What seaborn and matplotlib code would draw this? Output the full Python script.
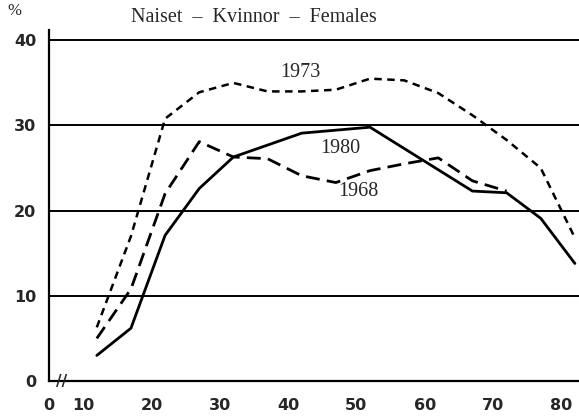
import numpy as np
import pandas as pd
import seaborn as sns
import matplotlib.pyplot as plt

# Data (age on x, percent on y)
age_1980 = [12, 17, 22, 27, 32, 42, 52, 67, 72, 77, 82]
pct_1980 = [3.0, 6.2, 17.1, 22.6, 26.3, 29.1, 29.8, 22.3, 22.1, 19.1, 13.8]

age_1973 = [12, 17, 22, 27, 32, 37, 42, 47, 52, 57, 62, 67, 72, 77, 82]
pct_1973 = [6.3, 17.0, 30.8, 33.9, 35.0, 34.0, 34.0, 34.2, 35.5, 35.3, 33.8, 31.2, 28.3, 25.0, 16.8]

age_1968 = [12, 17, 22, 27, 32, 37, 42, 47, 52, 57, 62, 67, 72]
pct_1968 = [5.0, 10.8, 22.0, 28.1, 26.3, 26.1, 24.1, 23.3, 24.7, 25.5, 26.2, 23.5, 22.3]

yticks = [0, 10, 20, 30, 40]
xticks = [10, 20, 30, 40, 50, 60, 70, 80]

sns.set_style("white")
plt.rcParams['font.family'] = ['DejaVu Sans']

fig = plt.figure(figsize=(5.79, 4.18), dpi=100)
ax = fig.add_axes([0.0846, 0.0885, 0.9154, 0.8395])

# grid lines at 10..40
for v in yticks[1:]:
    ax.axhline(v, color="black", lw=1.4, zorder=1)

sns.lineplot(x=age_1973, y=pct_1973, ax=ax, color="black", lw=1.8,
             linestyle=(0, (3.0, 2.2)), sort=False)
sns.lineplot(x=age_1968, y=pct_1968, ax=ax, color="black", lw=2.0,
             linestyle=(0, (5.0, 2.6)), sort=False)
sns.lineplot(x=age_1980, y=pct_1980, ax=ax, color="black", lw=2.0, sort=False)

ax.set_xlim(5, 82.6)
ax.set_ylim(0, 41.2)

# x axis with break: tick "0" at the left end
ax.set_xticks([5] + xticks)
ax.set_xticklabels(["0"] + [str(t) for t in xticks])
ax.set_yticks(yticks)
ax.tick_params(axis="x", direction="out", length=7, width=1.4, pad=5,
               labelsize=11.5)
ax.tick_params(axis="y", direction="inout", length=10, width=1.4, pad=4,
               labelsize=11.5)
for lab in ax.get_xticklabels() + ax.get_yticklabels():
    lab.set_fontweight("bold")

for s in ["top", "right"]:
    ax.spines[s].set_visible(False)
for s in ["left", "bottom"]:
    ax.spines[s].set_linewidth(1.6)
    ax.spines[s].set_color("black")

# axis break marks
ax.text(6.8, 0, "//", ha="center", va="center", fontsize=11,
        fontweight="bold", clip_on=False)

serif = ["Liberation Serif", "DejaVu Serif"]
fig.text(0.012, 0.992, "%", ha="left", va="top", fontsize=12, family=serif)
fig.text(0.438, 0.957, "Naiset  \u2013  Kvinnor  \u2013  Females", ha="center",
         va="center", fontsize=14.5, family=serif)
ax.text(41.8, 36.2, "1973", ha="center", va="center", fontsize=14.5, family=serif)
ax.text(47.7, 27.3, "1980", ha="center", va="center", fontsize=14.5, family=serif)
ax.text(50.3, 22.2, "1968", ha="center", va="center", fontsize=14.5, family=serif)

fig.savefig("out.png", dpi=100)
